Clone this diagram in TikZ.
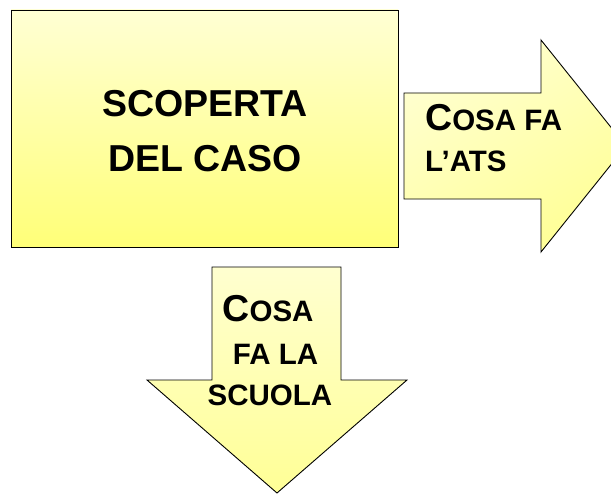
\documentclass[tikz,border=0pt]{standalone}
\usepackage{fontspec}
\setmainfont{Liberation Sans}
\newcommand{\bigf}{\fontsize{37.5pt}{40pt}\selectfont}
\newcommand{\smc}[1]{{\fontsize{29.5pt}{31pt}\selectfont #1}}
\begin{document}
\begin{tikzpicture}[x=1pt,y=-1pt,
  boxfill/.style={draw=black,line width=0.9pt,top color=yellowtop,bottom color=yellowbot},
  arrowfill/.style={draw=black,line width=0.9pt,top color=arrtop,bottom color=arrbot},
  txt/.style={inner sep=0pt,font=\bfseries\bigf,text=black}]
\definecolor{yellowtop}{HTML}{FFFFD4}
\definecolor{yellowbot}{HTML}{FFFF78}
\definecolor{arrtop}{HTML}{FFFFD0}
\definecolor{arrbot}{HTML}{FFFF96}
\useasboundingbox (0,0) rectangle (611,495);
\clip (0,0) rectangle (611,495);
\fill[white] (0,0) rectangle (611,495);
% main box
\path[boxfill] (11,10) rectangle (398,247);
\node[txt,anchor=base] (l1) at (205,116.7) {SCOPERTA};
\node[txt,anchor=base] (l2) at (205,171.7) {DEL CASO};
% right block arrow
\path[arrowfill,shading angle=30] (404,93) -- (541,93) -- (541,40) -- (626,146) -- (541,252) -- (541,199) -- (404,199) -- cycle;
\node[txt,anchor=base west] (r1) at (425,131) {C\smc{OSA FA}};
\node[txt,anchor=base west] (r2) at (425,171.7) {\smc{L’ATS}};
% down block arrow
\path[arrowfill] (212,267) -- (341,267) -- (341,380) -- (407,380) -- (277,493) -- (147,380) -- (212,380) -- cycle;
\node[txt,anchor=base] (d1) at (268,321.7) {C\smc{OSA}};
\node[txt,anchor=base] (d2) at (275.5,364) {\smc{FA LA}};
\node[txt,anchor=base] (d3) at (270,405) {\smc{SCUOLA}};
\end{tikzpicture}
\end{document}
